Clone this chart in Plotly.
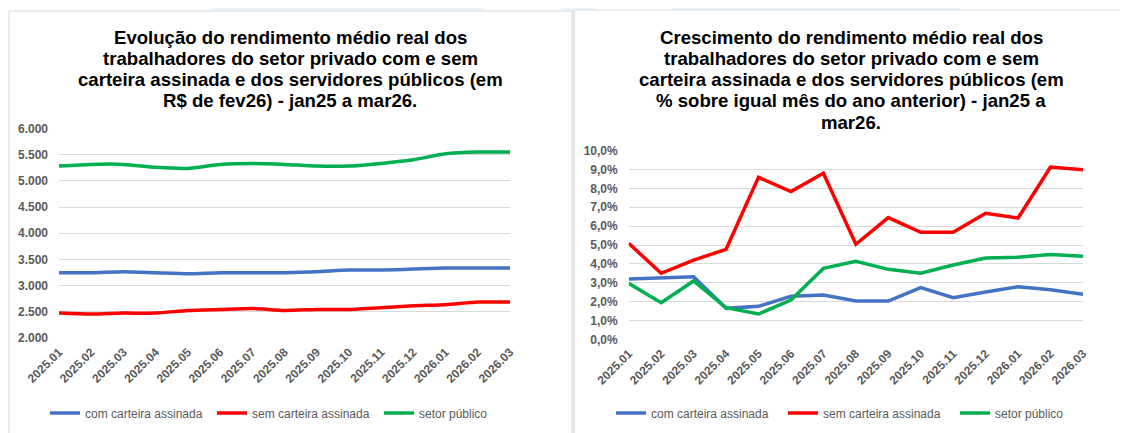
import plotly.graph_objects as go

months = ["2025.01", "2025.02", "2025.03", "2025.04", "2025.05", "2025.06", "2025.07",
          "2025.08", "2025.09", "2025.10", "2025.11", "2025.12", "2026.01", "2026.02", "2026.03"]

# Left chart: R$ de fev26
com_carteira_rs = [3243, 3243, 3262, 3243, 3224, 3243, 3243, 3243, 3262, 3294, 3294, 3313, 3332, 3332, 3332]
sem_carteira_rs = [2471, 2452, 2471, 2471, 2522, 2541, 2560, 2522, 2541, 2541, 2573, 2611, 2630, 2681, 2681]
setor_publico_rs = [5285, 5317, 5317, 5260, 5240, 5317, 5336, 5317, 5285, 5285, 5336, 5405, 5520, 5553, 5553]

# Right chart: % sobre igual mês do ano anterior
com_carteira_pct = [3.20, 3.25, 3.32, 1.64, 1.75, 2.28, 2.35, 2.03, 2.03, 2.74, 2.21, 2.51, 2.79, 2.63, 2.39]
sem_carteira_pct = [5.09, 3.50, 4.20, 4.77, 8.59, 7.83, 8.80, 5.04, 6.45, 5.67, 5.67, 6.68, 6.43, 9.13, 8.99]
setor_publico_pct = [2.97, 1.94, 3.09, 1.68, 1.34, 2.08, 3.76, 4.13, 3.71, 3.50, 3.94, 4.31, 4.35, 4.49, 4.40]

series_names = ["com carteira assinada", "sem carteira assinada", "setor público"]
colors = ["#4472C4", "#FF0000", "#00B050"]

left_title = ["Evolução do rendimento médio real dos",
              "trabalhadores do setor privado com e sem",
              "carteira assinada e dos servidores públicos (em",
              "R$ de fev26) - jan25 a mar26."]
right_title = ["Crescimento do rendimento médio real dos",
               "trabalhadores do setor privado com e sem",
               "carteira assinada e dos servidores públicos (em",
               "% sobre igual mês do ano anterior) - jan25 a",
               "mar26."]

W, H = 1128, 433
OFF = 8  # page body margin offset


def px(x):
    return (x - OFF) / W


def py(y):
    return 1 - (y - OFF) / H


fig = go.Figure()

for name, vals, col in zip(series_names, [com_carteira_rs, sem_carteira_rs, setor_publico_rs], colors):
    fig.add_trace(go.Scatter(x=months, y=vals, name=name, mode="lines",
                             line=dict(color=col, width=3.5, shape="spline", smoothing=0.6),
                             xaxis="x", yaxis="y", legend="legend"))
for name, vals, col in zip(series_names, [com_carteira_pct, sem_carteira_pct, setor_publico_pct], colors):
    fig.add_trace(go.Scatter(x=months, y=[v / 100 for v in vals], name=name, mode="lines",
                             line=dict(color=col, width=3.5),
                             xaxis="x2", yaxis="y2", legend="legend2"))

tickfont = dict(family="Liberation Sans", size=12, color="#595959", weight="bold")
grid = "#D9D9D9"

common_x = dict(type="category", tickangle=-45, tickfont=tickfont, showgrid=False,
                showline=False, ticks="", ticklabelstandoff=4, fixedrange=True)
common_y = dict(showgrid=True, gridcolor=grid, gridwidth=1, zeroline=False, showline=False,
                ticks="", tickfont=tickfont, ticklabelstandoff=10, fixedrange=True)

legend_font = dict(family="Liberation Sans", size=12, color="#595959")
layout = dict(
    width=W, height=H, autosize=False,
    margin=dict(l=0, r=0, t=0, b=0, pad=0, autoexpand=False),
    paper_bgcolor="white", plot_bgcolor="white",
    separators=",.",
    xaxis=dict(domain=[px(59), px(510)], anchor="y", automargin=False, **common_x),
    yaxis=dict(domain=[py(337.7), py(128.7)], range=[2000, 6000], dtick=500,
               tickformat=",.0f", anchor="x", automargin=False, **common_y),
    xaxis2=dict(domain=[px(628.7), px(1083)], anchor="y2", automargin=False, **common_x),
    yaxis2=dict(domain=[py(339.3), py(150.7)], range=[0, 0.10], dtick=0.01,
                tickformat=".1%", anchor="x2", automargin=False, **common_y),
    legend=dict(orientation="h", x=px(45), y=py(413), xanchor="left", yanchor="middle",
                font=legend_font, bgcolor="rgba(0,0,0,0)",
                entrywidth=122, entrywidthmode="pixels", itemwidth=30),
    legend2=dict(orientation="h", x=px(611), y=py(413), xanchor="left", yanchor="middle",
                 font=legend_font, bgcolor="rgba(0,0,0,0)",
                 entrywidth=127, entrywidthmode="pixels", itemwidth=30),
    showlegend=True,
)
fig.update_layout(**layout)

# decorative background and panels
shapes = []
blue = "#EAF6FD"
shapes.append(dict(type="path", xref="paper", yref="paper",
                   path=f"M {px(211)} {py(0)} L {px(472)} {py(0)} L {px(488)} {py(11)} L {px(211)} {py(11)} Z",
                   fillcolor=blue, line=dict(width=0), layer="below"))
shapes.append(dict(type="path", xref="paper", yref="paper",
                   path=f"M {px(560)} {py(11)} L {px(568)} {py(0)} L {px(585)} {py(0)} L {px(597)} {py(11)} Z",
                   fillcolor=blue, line=dict(width=0), layer="below"))
shapes.append(dict(type="path", xref="paper", yref="paper",
                   path=f"M {px(662)} {py(0)} L {px(960)} {py(0)} L {px(960)} {py(11)} L {px(673)} {py(11)} Z",
                   fillcolor=blue, line=dict(width=0), layer="below"))
# left panel
shapes.append(dict(type="rect", xref="paper", yref="paper",
                   x0=px(9), x1=px(572), y0=py(445), y1=py(11),
                   fillcolor="white", line=dict(color="#D9D9D9", width=1), layer="below"))
# right panel
shapes.append(dict(type="rect", xref="paper", yref="paper",
                   x0=px(574), x1=px(1140), y0=py(445), y1=py(10),
                   fillcolor="white", line=dict(color="#D9D9D9", width=1), layer="below"))
# divider band
shapes.append(dict(type="rect", xref="paper", yref="paper",
                   x0=px(572), x1=px(575), y0=py(445), y1=py(11),
                   fillcolor="#E4E4E4", line=dict(width=0), layer="below"))
fig.update_layout(shapes=shapes)

annotations = []
title_font = dict(family="Liberation Sans", size=18.6, color="#000000", weight="bold")
for i, line in enumerate(left_title):
    annotations.append(dict(text=line, xref="paper", yref="paper", x=px(290), y=py(37 + 21.3 * i),
                            xanchor="center", yanchor="middle", showarrow=False, font=title_font))
for i, line in enumerate(right_title):
    annotations.append(dict(text=line, xref="paper", yref="paper", x=px(851), y=py(37 + 21.3 * i),
                            xanchor="center", yanchor="middle", showarrow=False, font=title_font))
fig.update_layout(annotations=annotations)

fig.write_html("out.html")
